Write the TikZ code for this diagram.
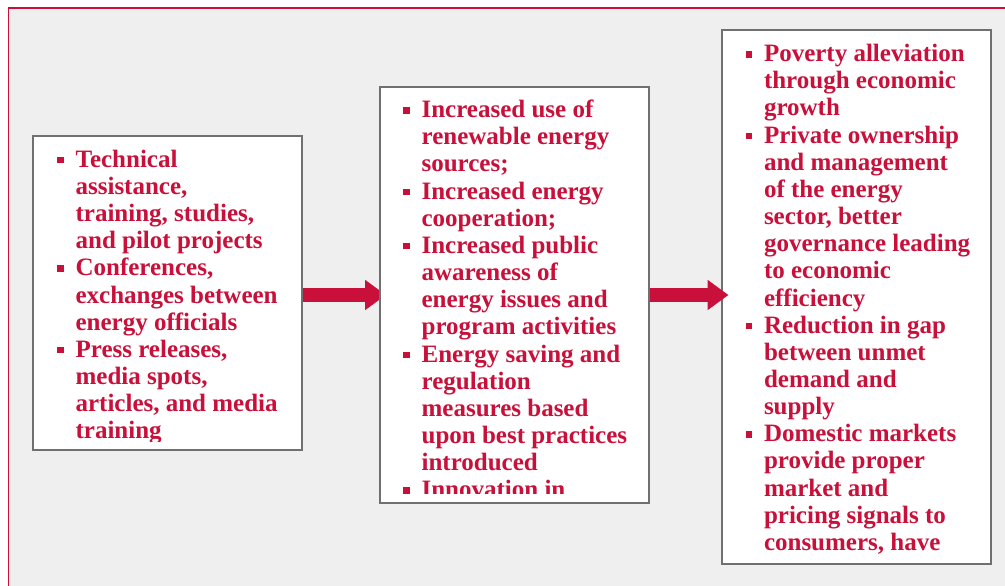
\documentclass[tikz,border=0pt]{standalone}
\usepackage{fontspec}
\setmainfont{Liberation Serif}
\usetikzlibrary{arrows.meta}
\definecolor{crim}{RGB}{200,16,58}
\definecolor{panel}{RGB}{239,239,239}
\definecolor{frame}{RGB}{112,112,112}
% bullet square and hanging indent for the lists
\newcommand\bsq{\makebox[18.3pt][l]{\raisebox{4pt}{\rule{6.5pt}{6.5pt}}}}
\newcommand\ind{\hspace*{18.3pt}}
\newcommand\listtext[1]{\parbox[t]{300pt}{\leavevmode\fontsize{25}{27.15}\selectfont\bfseries\color{crim}#1}}
\tikzset{
  box/.style={draw=frame, fill=white, line width=1.8pt, anchor=north west, inner sep=0pt},
  listnode/.style={anchor=base west, inner sep=0pt, outer sep=0pt},
  bigarrow/.style={draw=crim, line width=14pt, -{Triangle[width=29pt,length=21pt]}},
}
\begin{document}
\begin{tikzpicture}[x=1pt,y=-1pt]
\useasboundingbox (0,0) rectangle (1005,586);
\fill[white] (0,0) rectangle (1005,586);
\fill[panel] (8.5,8) rectangle (1005,586);
\draw[crim, line width=1.5pt] (8.5,586) -- (8.5,8) -- (1005,8);

% left box: activities
\node[box, minimum width=269pt, minimum height=314pt] (b1) at (32,135) {};
\begin{scope}
\clip (b1.north west) rectangle ([yshift=9.5pt]b1.south east);
\node[listnode] (t1) at (57.3,167.3) {\listtext{%
\bsq Technical\\
\ind assistance,\\
\ind training, studies,\\
\ind and pilot projects\\
\bsq Conferences,\\
\ind exchanges between\\
\ind energy officials\\
\bsq Press releases,\\
\ind media spots,\\
\ind articles, and media\\
\ind training}};
\end{scope}

% arrow into the middle box (tip passes under it)
\coordinate (a1) at (303,295);
\draw[bigarrow] (a1) -- (386,295);

% middle box: outcomes
\node[box, minimum width=269pt, minimum height=416pt] (b2) at (379,86) {};
\begin{scope}
\clip (b2.north west) rectangle ([yshift=10.3pt]b2.south east);
\node[listnode] (t2) at (403.3,117.7) {\listtext{%
\bsq Increased use of\\
\ind renewable energy\\
\ind sources;\\
\bsq Increased energy\\
\ind cooperation;\\
\bsq Increased public\\
\ind awareness of\\
\ind energy issues and\\
\ind program activities\\
\bsq Energy saving and\\
\ind regulation\\
\ind measures based\\
\ind upon best practices\\
\ind introduced\\
\bsq Innovation in}};
\end{scope}

% right box: impacts
\node[box, minimum width=269pt, minimum height=534pt] (b3) at (721,29) {};
\node[listnode] (t3) at (745.7,61.7) {\listtext{%
\bsq Poverty alleviation\\
\ind through economic\\
\ind growth\\
\bsq Private ownership\\
\ind and management\\
\ind of the energy\\
\ind sector, better\\
\ind governance leading\\
\ind to economic\\
\ind efficiency\\
\bsq Reduction in gap\\
\ind between unmet\\
\ind demand and\\
\ind supply\\
\bsq Domestic markets\\
\ind provide proper\\
\ind market and\\
\ind pricing signals to\\
\ind consumers, have}};

% arrow into the right box (drawn over its border)
\draw[bigarrow] (b2.east |- a1) -- ([xshift=7.5pt]b3.west |- a1);
\end{tikzpicture}
\end{document}
